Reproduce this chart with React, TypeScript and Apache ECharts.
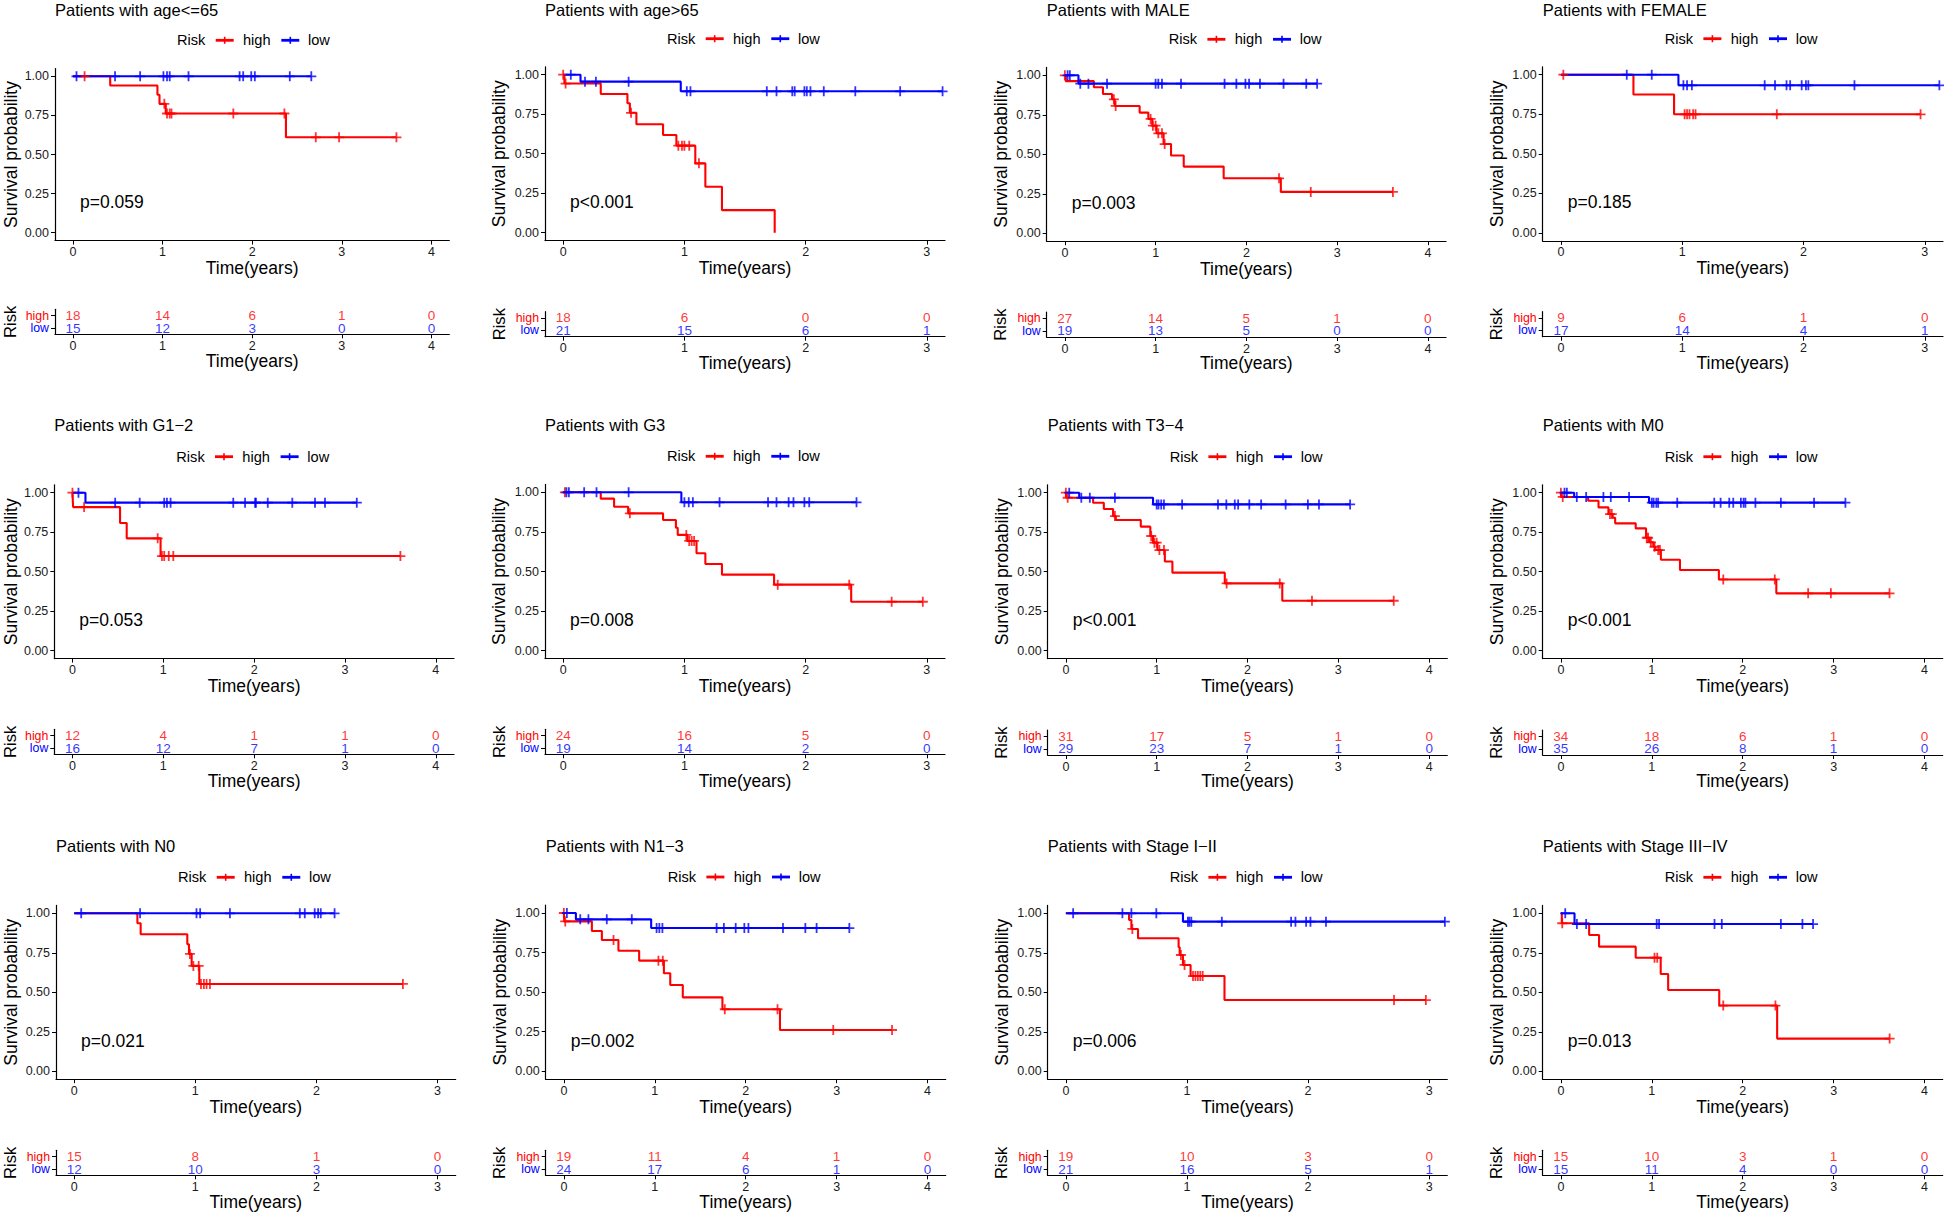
import React, { useEffect, useRef } from "react";
import * as echarts from "echarts";

// ---------------- DATA ----------------
const panelTitles = [
  "Patients with age<=65",
  "Patients with age>65",
  "Patients with MALE",
  "Patients with FEMALE",
  "Patients with G1\u22122",
  "Patients with G3",
  "Patients with T3\u22124",
  "Patients with M0",
  "Patients with N0",
  "Patients with N1\u22123",
  "Patients with Stage I\u2212II",
  "Patients with Stage III\u2212IV",
];

const pValueLabels = [
  "p=0.059", "p<0.001", "p=0.003", "p=0.185",
  "p=0.053", "p=0.008", "p<0.001", "p<0.001",
  "p=0.021", "p=0.002", "p=0.006", "p=0.013",
];

const axisMaxYears = [4, 3, 4, 3, 4, 3, 4, 4, 3, 4, 3, 4];

const survivalTicks = [0, 0.25, 0.5, 0.75, 1];
const riskGroups = ["low", "high"];

// [time of event, survival after the drop]
const highSteps: number[][][] = [
  [[0.416, 0.941], [0.943, 0.882], [0.966, 0.824], [1.036, 0.762], [2.377, 0.61]],
  [[0.01, 0.944], [0.31, 0.878], [0.53, 0.819], [0.55, 0.759], [0.604, 0.686], [0.824, 0.618], [0.934, 0.551], [1.09, 0.439], [1.173, 0.291], [1.31, 0.143], [1.745, 0]],
  [[0.01, 0.963], [0.32, 0.924], [0.42, 0.882], [0.52, 0.848], [0.55, 0.806], [0.824, 0.764], [0.92, 0.724], [0.963, 0.681], [1.01, 0.633], [1.088, 0.565], [1.17, 0.492], [1.31, 0.422], [1.75, 0.348], [2.38, 0.262]],
  [[0.598, 0.875], [0.933, 0.75]],
  [[0.007, 0.909], [0.524, 0.808], [0.597, 0.711], [0.97, 0.599]],
  [[0.31, 0.96], [0.42, 0.909], [0.536, 0.867], [0.824, 0.825], [0.93, 0.776], [0.945, 0.731], [1.025, 0.693], [1.1, 0.615], [1.173, 0.547], [1.31, 0.48], [1.74, 0.417], [2.376, 0.309]],
  [[0.007, 0.968], [0.3, 0.936], [0.418, 0.897], [0.52, 0.852], [0.55, 0.827], [0.825, 0.785], [0.93, 0.726], [0.96, 0.684], [1.008, 0.637], [1.09, 0.565], [1.173, 0.494], [1.75, 0.426], [2.383, 0.316]],
  [[0.004, 0.973], [0.3, 0.949], [0.414, 0.907], [0.523, 0.865], [0.57, 0.841], [0.597, 0.806], [0.823, 0.774], [0.937, 0.715], [0.973, 0.686], [1.017, 0.658], [1.04, 0.637], [1.1, 0.576], [1.31, 0.511], [1.738, 0.451], [2.37, 0.363]],
  [[0.522, 0.937], [0.549, 0.867], [0.934, 0.804], [0.948, 0.743], [0.97, 0.667], [1.033, 0.553]],
  [[0.004, 0.947], [0.308, 0.886], [0.418, 0.829], [0.6, 0.762], [0.828, 0.699], [1.1, 0.619], [1.17, 0.545], [1.308, 0.467], [1.744, 0.392], [2.377, 0.261]],
  [[0.522, 0.958], [0.541, 0.901], [0.596, 0.842], [0.931, 0.785], [0.94, 0.736], [0.967, 0.673], [1.03, 0.603], [1.31, 0.451]],
  [[0.01, 0.937], [0.311, 0.863], [0.42, 0.789], [0.823, 0.719], [1.098, 0.616], [1.18, 0.515], [1.742, 0.416], [2.379, 0.207]],
];

const highCensored: number[][] = [
  [0.13, 1.02, 1.05, 1.08, 1.1, 1.79, 2.36, 2.71, 2.97, 3.61],
  [0.0, 0.02, 0.56, 0.95, 0.98, 1.0, 1.04, 1.12],
  [0.0, 0.54, 0.56, 0.945, 0.97, 1.0, 1.03, 1.07, 1.1, 2.36, 2.71, 3.615],
  [0.02, 1.02, 1.04, 1.06, 1.09, 1.11, 1.78, 2.965],
  [0.0, 0.128, 0.938, 0.985, 1.01, 1.06, 1.11, 3.61],
  [0.014, 0.55, 1.016, 1.04, 1.06, 1.08, 1.77, 2.36, 2.71, 2.967],
  [0.0, 0.02, 0.54, 0.94, 0.975, 1.0, 1.03, 1.08, 1.77, 2.355, 2.71, 3.61],
  [0.0, 0.02, 0.54, 0.56, 0.945, 0.96, 0.99, 1.03, 1.07, 1.09, 1.786, 2.353, 2.72, 2.97, 3.615],
  [0.956, 0.984, 1.028, 1.047, 1.071, 1.093, 1.121, 2.714],
  [0.0, 0.015, 0.546, 1.04, 1.088, 1.77, 2.35, 2.963, 3.61],
  [0.549, 0.95, 0.98, 1.05, 1.07, 1.09, 1.11, 1.13, 2.71, 2.973],
  [0.015, 1.03, 1.06, 1.786, 2.36, 3.616],
];

const lowSteps: number[][][] = [
  [],
  [[0.143, 0.956], [0.97, 0.895]],
  [[0.15, 0.947]],
  [[0.969, 0.933]],
  [[0.143, 0.937]],
  [[0.975, 0.937]],
  [[0.147, 0.968], [0.96, 0.926]],
  [[0.146, 0.973], [0.97, 0.937]],
  [],
  [[0.132, 0.96], [0.96, 0.905]],
  [[0.967, 0.947]],
  [[0.15, 0.932]],
];

const lowCensored: number[][] = [
  [0.04, 0.47, 0.75, 1.01, 1.05, 1.08, 1.29, 1.86, 1.9, 1.99, 2.03, 2.42, 2.66],
  [0.063, 0.18, 0.27, 0.54, 1.02, 1.05, 1.68, 1.76, 1.89, 1.91, 1.99, 2.01, 2.04, 2.15, 2.41, 2.78, 3.13],
  [0.03, 0.055, 0.17, 0.26, 0.465, 1.0, 1.03, 1.07, 1.28, 1.76, 1.89, 1.99, 2.03, 2.15, 2.41, 2.66, 2.78],
  [0.543, 0.749, 1.01, 1.04, 1.08, 1.68, 1.765, 1.86, 1.89, 1.985, 2.02, 2.04, 2.42, 3.12],
  [0.066, 0.47, 0.74, 1.01, 1.04, 1.08, 1.77, 1.9, 2.01, 2.02, 2.15, 2.42, 2.67, 2.78, 3.13],
  [0.027, 0.047, 0.173, 0.275, 0.54, 1.0, 1.036, 1.07, 1.29, 1.69, 1.76, 1.86, 1.9, 1.99, 2.03, 2.42],
  [0.037, 0.17, 0.264, 0.54, 1.0, 1.02, 1.05, 1.08, 1.28, 1.675, 1.767, 1.86, 1.897, 2.02, 2.15, 2.42, 2.665, 2.787, 3.13],
  [0.04, 0.066, 0.175, 0.278, 0.468, 0.549, 0.75, 1.0, 1.02, 1.05, 1.07, 1.28, 1.687, 1.757, 1.852, 1.896, 1.98, 2.01, 2.03, 2.14, 2.42, 2.785, 3.13],
  [0.058, 0.544, 1.01, 1.04, 1.286, 1.863, 1.904, 1.986, 2.014, 2.036, 2.15],
  [0.033, 0.18, 0.27, 0.472, 0.747, 1.02, 1.05, 1.084, 1.68, 1.76, 1.89, 1.985, 2.03, 2.41, 2.656, 2.78, 3.14],
  [0.06, 0.467, 0.541, 0.747, 1.008, 1.02, 1.036, 1.288, 1.86, 1.896, 1.984, 2.02, 2.148, 3.13],
  [0.048, 0.176, 0.278, 1.054, 1.08, 1.69, 1.77, 2.42, 2.657, 2.774],
];

const highAtRisk: number[][] = [
  [18, 14, 6, 1, 0], [18, 6, 0, 0], [27, 14, 5, 1, 0], [9, 6, 1, 0],
  [12, 4, 1, 1, 0], [24, 16, 5, 0], [31, 17, 5, 1, 0], [34, 18, 6, 1, 0],
  [15, 8, 1, 0], [19, 11, 4, 1, 0], [19, 10, 3, 0], [15, 10, 3, 1, 0],
];

const lowAtRisk: number[][] = [
  [15, 12, 3, 0, 0], [21, 15, 6, 1], [19, 13, 5, 0, 0], [17, 14, 4, 1],
  [16, 12, 7, 1, 0], [19, 14, 2, 0], [29, 23, 7, 1, 0], [35, 26, 8, 1, 0],
  [12, 10, 3, 0], [24, 17, 6, 1, 0], [21, 16, 5, 1], [15, 11, 4, 0, 0],
];

// ---------------- LAYOUT ----------------
const LAYOUT_L = [55, 545, 1046.7, 1542.7, 54.3, 545, 1047.7, 1542.7, 56, 545.7, 1047.7, 1542.7];
const LAYOUT_R = [449.3, 945, 1446, 1943, 454, 945, 1447.3, 1942.7, 455.7, 945.7, 1447.3, 1942.7];
const LAYOUT_Y1 = [76.3, 74.7, 75.3, 74.7, 492.7, 492.3, 492.7, 492.7, 913.3, 913, 913.3, 913.3];
const LAYOUT_Y0 = [232.7, 232.7, 233.3, 233, 650.7, 650.7, 650.7, 650.7, 1071.3, 1071.3, 1071.3, 1071.3];
const LAYOUT_RISK = [334.3, 336.7, 337, 336.7, 754.3, 754.3, 755, 755, 1175.3, 1175.3, 1175.3, 1175.3];

const RED = "#FF0000";
const BLUE = "#0000FF";
const AXIS = "#000000";
const TICK = "#1a1a1a";
const FONT = "'Liberation Sans', Arial, Helvetica, sans-serif";
const CROSS = "path://M0.41,0 H0.59 V0.41 H1 V0.59 H0.59 V1 H0.41 V0.59 H0 V0.41 H0.41 Z";

function survAt(steps: number[][], t: number) {
  let s = 1;
  for (const [te, se] of steps) if (te <= t) s = se;
  return s;
}

function curve(steps: number[][], cens: number[]) {
  const pts: number[][] = [[0, 1]];
  steps.forEach(([t, s]) => pts.push([t, s]));
  const lastEvent = steps.length ? steps[steps.length - 1][0] : 0;
  const lastCens = cens.length ? Math.max(...cens) : 0;
  const lastT = Math.max(lastEvent, lastCens);
  pts.push([lastT, survAt(steps, lastT)]);
  return pts;
}

function txt(text: string, x: number, y: number, size: number, align: string, opts: any = {}) {
  return {
    type: "text",
    x,
    y,
    rotation: opts.rotation || 0,
    silent: true,
    style: {
      text,
      fill: opts.fill || "#000",
      fontSize: size,
      fontFamily: FONT,
      textAlign: align,
      align,
      textVerticalAlign: "middle",
      verticalAlign: "middle",
    },
  };
}

function buildOption() {
  const grid: any[] = [];
  const xAxis: any[] = [];
  const yAxis: any[] = [];
  const series: any[] = [];
  const graphic: any[] = [];

  panelTitles.forEach((title, i) => {
    const L = LAYOUT_L[i];
    const R = LAYOUT_R[i];
    const y1 = LAYOUT_Y1[i];
    const y0 = LAYOUT_Y0[i];
    const rb = LAYOUT_RISK[i];
    const span = y0 - y1;
    const T = axisMaxYears[i];
    const xTicks: number[] = [];
    for (let k = 0; k <= T; k++) xTicks.push(k);
    const km = 2 * i;
    const rk = 2 * i + 1;

    grid.push({ left: L, top: y1 - 0.05 * span, width: R - L, height: 1.1 * span, containLabel: false, outerBoundsMode: "none" });
    grid.push({ left: L, top: rb - 25, width: R - L, height: 25, containLabel: false, outerBoundsMode: "none" });

    const xAx = (gi: number) => ({
      type: "value",
      gridIndex: gi,
      min: -0.05 * T,
      max: 1.05 * T,
      axisLine: { show: true, onZero: false, lineStyle: { color: AXIS, width: 1.2 } },
      axisTick: { show: true, length: 4, customValues: xTicks, lineStyle: { color: AXIS, width: 1 } },
      axisLabel: {
        show: true, customValues: xTicks, margin: 5, fontSize: 12.5, color: TICK, fontFamily: FONT,
        formatter: (v: number) => String(Math.round(v)),
      },
      splitLine: { show: false },
    });
    xAxis.push(xAx(km));
    xAxis.push(xAx(rk));

    yAxis.push({
      type: "value",
      gridIndex: km,
      min: -0.05,
      max: 1.05,
      axisLine: { show: true, onZero: false, lineStyle: { color: AXIS, width: 1.2 } },
      axisTick: { show: true, length: 4, customValues: survivalTicks, lineStyle: { color: AXIS, width: 1 } },
      axisLabel: {
        show: true, customValues: survivalTicks, margin: 6, fontSize: 12.5, color: TICK, fontFamily: FONT,
        formatter: (v: number) => v.toFixed(2),
      },
      splitLine: { show: false },
    });
    yAxis.push({
      type: "category",
      gridIndex: rk,
      data: riskGroups,
      axisLine: { show: true, onZero: false, lineStyle: { color: AXIS, width: 1.2 } },
      axisTick: { show: true, length: 4, alignWithLabel: true, interval: 0, lineStyle: { color: AXIS, width: 1 } },
      axisLabel: {
        show: true, margin: 6, interval: 0, fontFamily: FONT,
        formatter: (v: string) => (v === "high" ? "{h|high}" : "{l|low}"),
        rich: {
          h: { color: RED, fontSize: 12.3, fontFamily: FONT },
          l: { color: BLUE, fontSize: 12.3, fontFamily: FONT },
        },
      },
      splitLine: { show: false },
    });

    const groups = [
      { steps: highSteps[i], cens: highCensored[i], color: RED, atRisk: highAtRisk[i], row: 1 },
      { steps: lowSteps[i], cens: lowCensored[i], color: BLUE, atRisk: lowAtRisk[i], row: 0 },
    ];
    groups.forEach((g, gi) => {
      series.push({
        type: "line",
        xAxisIndex: km,
        yAxisIndex: km,
        data: curve(g.steps, g.cens),
        step: "end",
        showSymbol: false,
        symbol: "none",
        silent: true,
        lineStyle: { color: g.color, width: 2.1 },
        z: 3 + gi,
      });
      series.push({
        type: "scatter",
        xAxisIndex: km,
        yAxisIndex: km,
        data: g.cens.map((t) => [t, survAt(g.steps, t)]),
        symbol: CROSS,
        symbolSize: 10,
        silent: true,
        itemStyle: { color: g.color },
        z: 5 + gi,
      });
      series.push({
        type: "scatter",
        xAxisIndex: rk,
        yAxisIndex: rk,
        data: g.atRisk.map((n, k) => [k, g.row, n]),
        symbolSize: 1,
        silent: true,
        itemStyle: { color: "transparent" },
        label: {
          show: true,
          position: "inside",
          formatter: (p: any) => String(p.value[2]),
          color: g.color,
          fontSize: 13.5,
          fontFamily: FONT,
        },
        z: 5,
      });
    });

    // texts
    graphic.push(txt(title, L, Math.max(10, y1 - 67.5), 16.5, "left"));
    const ly = y1 - 36;
    const lx = L + 122;
    graphic.push(txt("Risk", lx, ly, 14.6, "left"));
    graphic.push({ type: "line", silent: true, shape: { x1: lx + 38.7, y1: ly, x2: lx + 56.7, y2: ly }, style: { stroke: RED, lineWidth: 2.8 } });
    graphic.push({ type: "line", silent: true, shape: { x1: lx + 47.7, y1: ly - 3.5, x2: lx + 47.7, y2: ly + 3.5 }, style: { stroke: RED, lineWidth: 1.6 } });
    graphic.push(txt("high", lx + 66, ly, 14.6, "left"));
    graphic.push({ type: "line", silent: true, shape: { x1: lx + 104.3, y1: ly, x2: lx + 122.3, y2: ly }, style: { stroke: BLUE, lineWidth: 2.8 } });
    graphic.push({ type: "line", silent: true, shape: { x1: lx + 113.3, y1: ly - 3.5, x2: lx + 113.3, y2: ly + 3.5 }, style: { stroke: BLUE, lineWidth: 1.6 } });
    graphic.push(txt("low", lx + 131, ly, 14.6, "left"));

    graphic.push(txt(pValueLabels[i], L + 25, y0 - 30.7, 17.5, "left"));
    graphic.push(txt("Survival probability", Math.max(10.5, L - 46), (y1 + y0) / 2, 17.5, "center", { rotation: Math.PI / 2 }));
    graphic.push(txt("Time(years)", (L + R) / 2, y0 + 7.6 + 27.8, 17.5, "center"));
    graphic.push(txt("Risk", Math.max(10.5, L - 46), rb - 12.5, 16.6, "center", { rotation: Math.PI / 2 }));
    graphic.push(txt("Time(years)", (L + R) / 2, Math.min(1203, rb + 26.3), 17.5, "center"));
  });

  return {
    animation: false,
    backgroundColor: "#ffffff",
    grid,
    xAxis,
    yAxis,
    series,
    graphic: { elements: graphic },
  };
}

export default function App() {
  const ref = useRef<HTMLDivElement>(null);
  useEffect(() => {
    if (!ref.current) return;
    const chart = echarts.init(ref.current, undefined, { renderer: "svg" });
    chart.setOption(buildOption() as any);
    return () => chart.dispose();
  }, []);
  return (
    <div
      ref={ref}
      style={{ position: "fixed", left: 0, top: 0, width: 1944, height: 1213, background: "#fff" }}
    />
  );
}
